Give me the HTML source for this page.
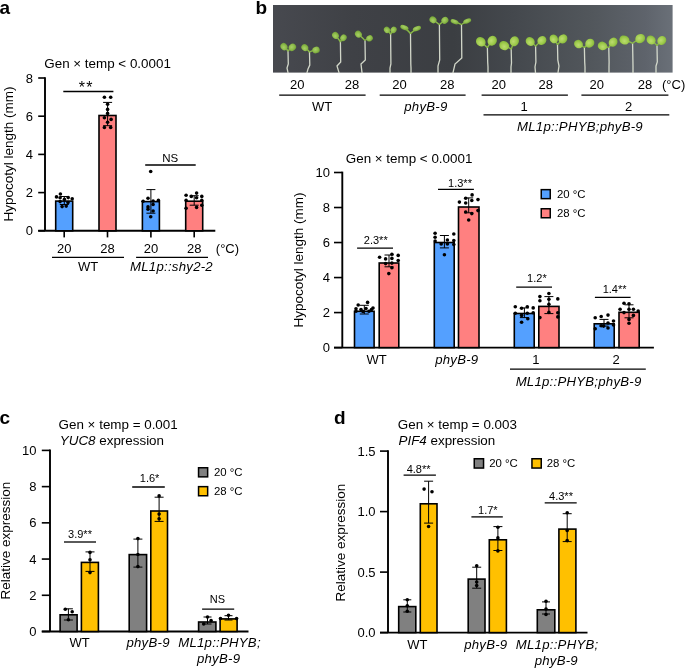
<!DOCTYPE html><html><head><meta charset="utf-8"><style>html,body{margin:0;padding:0;background:#fff;}svg{display:block;font-family:"Liberation Sans",sans-serif;will-change:transform;}</style></head><body>
<svg width="685" height="668" viewBox="0 0 685 668">
<rect width="685" height="668" fill="#fff"/>
<text x="-0.5" y="14.2" font-size="19" text-anchor="start" font-weight="bold">a</text>
<text x="255.5" y="13.8" font-size="19" text-anchor="start" font-weight="bold">b</text>
<text x="-0.5" y="424.1" font-size="19" text-anchor="start" font-weight="bold">c</text>
<text x="334" y="423.9" font-size="19" text-anchor="start" font-weight="bold">d</text>
<text x="44.3" y="67.8" font-size="13.4" text-anchor="start">Gen × temp &lt; 0.0001</text>
<line x1="45" y1="77.14999999999999" x2="45" y2="230.8" stroke="#000" stroke-width="1.9"/><line x1="38.2" y1="230.8" x2="45" y2="230.8" stroke="#000" stroke-width="1.615"/><text x="33.0" y="235.41500000000002" font-size="13" text-anchor="end">0</text><line x1="38.2" y1="192.60000000000002" x2="45" y2="192.60000000000002" stroke="#000" stroke-width="1.615"/><text x="33.0" y="197.21500000000003" font-size="13" text-anchor="end">2</text><line x1="38.2" y1="154.4" x2="45" y2="154.4" stroke="#000" stroke-width="1.615"/><text x="33.0" y="159.01500000000001" font-size="13" text-anchor="end">4</text><line x1="38.2" y1="116.2" x2="45" y2="116.2" stroke="#000" stroke-width="1.615"/><text x="33.0" y="120.815" font-size="13" text-anchor="end">6</text><line x1="38.2" y1="78.0" x2="45" y2="78.0" stroke="#000" stroke-width="1.615"/><text x="33.0" y="82.615" font-size="13" text-anchor="end">8</text>
<line x1="38.2" y1="230.8" x2="215.3" y2="230.8" stroke="#000" stroke-width="1.9"/>
<text transform="translate(13.0,154.0) rotate(-90)" font-size="13.5" text-anchor="middle">Hypocotyl length (mm)</text>
<line x1="64.2" y1="230.8" x2="64.2" y2="237.4" stroke="#000" stroke-width="1.615"/>
<line x1="107.5" y1="230.8" x2="107.5" y2="237.4" stroke="#000" stroke-width="1.615"/>
<line x1="150.9" y1="230.8" x2="150.9" y2="237.4" stroke="#000" stroke-width="1.615"/>
<line x1="194.2" y1="230.8" x2="194.2" y2="237.4" stroke="#000" stroke-width="1.615"/>
<rect x="55.70" y="201.10" width="17.00" height="29.70" fill="#54A0FF" stroke="#000" stroke-width="1.6"/>
<rect x="99.00" y="115.50" width="17.00" height="115.30" fill="#FF8080" stroke="#000" stroke-width="1.6"/>
<rect x="142.40" y="201.60" width="17.00" height="29.20" fill="#54A0FF" stroke="#000" stroke-width="1.6"/>
<rect x="185.70" y="201.20" width="17.00" height="29.60" fill="#FF8080" stroke="#000" stroke-width="1.6"/>
<line x1="64.3" y1="196.5" x2="64.3" y2="204.5" stroke="#000" stroke-width="1.0"/><line x1="59.8" y1="196.5" x2="68.8" y2="196.5" stroke="#000" stroke-width="1.0"/><line x1="59.8" y1="204.5" x2="68.8" y2="204.5" stroke="#000" stroke-width="1.0"/>
<line x1="107.6" y1="102.4" x2="107.6" y2="125.7" stroke="#000" stroke-width="1.0"/><line x1="103.1" y1="102.4" x2="112.1" y2="102.4" stroke="#000" stroke-width="1.0"/><line x1="103.1" y1="125.7" x2="112.1" y2="125.7" stroke="#000" stroke-width="1.0"/>
<line x1="150.9" y1="189.6" x2="150.9" y2="213.2" stroke="#000" stroke-width="1.0"/><line x1="146.4" y1="189.6" x2="155.4" y2="189.6" stroke="#000" stroke-width="1.0"/><line x1="146.4" y1="213.2" x2="155.4" y2="213.2" stroke="#000" stroke-width="1.0"/>
<line x1="194.2" y1="195.7" x2="194.2" y2="205.2" stroke="#000" stroke-width="1.0"/><line x1="189.7" y1="195.7" x2="198.7" y2="195.7" stroke="#000" stroke-width="1.0"/><line x1="189.7" y1="205.2" x2="198.7" y2="205.2" stroke="#000" stroke-width="1.0"/>
<circle cx="56.5" cy="196.9" r="1.8"/><circle cx="60.4" cy="194.0" r="1.8"/><circle cx="60.1" cy="197.8" r="1.8"/><circle cx="64.4" cy="199.4" r="1.8"/><circle cx="68.2" cy="197.6" r="1.8"/><circle cx="72.2" cy="198.7" r="1.8"/><circle cx="62.1" cy="206.6" r="1.8"/><circle cx="66.2" cy="206.1" r="1.8"/><circle cx="60.1" cy="201.6" r="1.8"/><circle cx="68.0" cy="202.5" r="1.8"/>
<circle cx="104.4" cy="97.2" r="1.8"/><circle cx="110.7" cy="97.2" r="1.8"/><circle cx="107.6" cy="104.2" r="1.8"/><circle cx="107.6" cy="109.4" r="1.8"/><circle cx="107.6" cy="113.4" r="1.8"/><circle cx="104.4" cy="117.7" r="1.8"/><circle cx="111.1" cy="119.4" r="1.8"/><circle cx="107.6" cy="122.2" r="1.8"/><circle cx="104.4" cy="127.5" r="1.8"/><circle cx="110.7" cy="127.5" r="1.8"/>
<circle cx="150.7" cy="171.5" r="1.8"/><circle cx="143.1" cy="201.3" r="1.8"/><circle cx="148.0" cy="198.2" r="1.8"/><circle cx="153.1" cy="201.0" r="1.8"/><circle cx="158.4" cy="200.4" r="1.8"/><circle cx="148.0" cy="206.9" r="1.8"/><circle cx="153.1" cy="204.5" r="1.8"/><circle cx="153.1" cy="211.0" r="1.8"/><circle cx="150.7" cy="216.7" r="1.8"/><circle cx="148.0" cy="209.2" r="1.8"/>
<circle cx="186.1" cy="195.2" r="1.8"/><circle cx="196.6" cy="193.1" r="1.8"/><circle cx="201.8" cy="196.4" r="1.8"/><circle cx="191.3" cy="196.4" r="1.8"/><circle cx="196.6" cy="197.8" r="1.8"/><circle cx="186.1" cy="200.4" r="1.8"/><circle cx="201.8" cy="200.4" r="1.8"/><circle cx="186.1" cy="208.3" r="1.8"/><circle cx="196.6" cy="207.4" r="1.8"/><circle cx="201.8" cy="205.2" r="1.8"/>
<line x1="63.3" y1="91.5" x2="113.4" y2="91.5" stroke="#000" stroke-width="1.3"/>
<text x="86.3" y="92.9" font-size="16" text-anchor="middle" letter-spacing="1.2">**</text>
<line x1="145.2" y1="165" x2="195.7" y2="165" stroke="#000" stroke-width="1.3"/>
<text x="170.3" y="161.9" font-size="11.5" text-anchor="middle">NS</text>
<text x="64.2" y="252.8" font-size="13" text-anchor="middle">20</text>
<text x="107.5" y="252.8" font-size="13" text-anchor="middle">28</text>
<text x="150.9" y="252.8" font-size="13" text-anchor="middle">20</text>
<text x="194.2" y="252.8" font-size="13" text-anchor="middle">28</text>
<text x="215.8" y="252.8" font-size="13" text-anchor="start">(°C)</text>
<line x1="52" y1="257.3" x2="124" y2="257.3" stroke="#000" stroke-width="1.3"/>
<line x1="136.1" y1="257.3" x2="208" y2="257.3" stroke="#000" stroke-width="1.3"/>
<text x="88" y="270.8" font-size="13" text-anchor="middle">WT</text>
<text x="171.5" y="270.9" font-size="13.2" text-anchor="middle" letter-spacing="0.25" font-style="italic">ML1p::shy2-2</text>
<defs><linearGradient id="pg" x1="0" x2="1" y1="0" y2="0"><stop offset="0" stop-color="#47494f"/><stop offset="0.2" stop-color="#3f4146"/><stop offset="0.45" stop-color="#3b3e42"/><stop offset="0.6" stop-color="#44484d"/><stop offset="0.8" stop-color="#52575c"/><stop offset="0.93" stop-color="#5e636b"/><stop offset="1" stop-color="#6a7078"/></linearGradient><radialGradient id="cg" cx="0.45" cy="0.4" r="0.6"><stop offset="0" stop-color="#a8cf66"/><stop offset="0.6" stop-color="#8dbb4a"/><stop offset="1" stop-color="#729f38"/></radialGradient><radialGradient id="cg2" cx="0.45" cy="0.4" r="0.6"><stop offset="0" stop-color="#bcdc70"/><stop offset="0.6" stop-color="#a0cc4e"/><stop offset="1" stop-color="#84b63a"/></radialGradient><filter id="bl" x="-5%" y="-5%" width="110%" height="110%"><feGaussianBlur stdDeviation="0.45"/></filter></defs>
<rect x="273" y="5" width="399.6" height="67.6" fill="url(#pg)"/>
<g filter="url(#bl)">
<path d="M288,51.4 L288.3,64 L287,68 L288,72.6" fill="none" stroke="#dde3d4" stroke-width="1.3" stroke-opacity="0.92" stroke-linecap="round"/>
<path d="M284,46.6 Q288,50.4 288,51.4 Q288,50.4 292.4,47.3" fill="none" stroke="#8ab848" stroke-width="1.5"/>
<ellipse cx="284" cy="46.6" rx="3.77" ry="3.33" transform="rotate(-129.8 284 46.6)" fill="url(#cg)"/>
<ellipse cx="292.4" cy="47.3" rx="3.88" ry="3.42" transform="rotate(-43.0 292.4 47.3)" fill="url(#cg)"/>
<path d="M309.5,52.4 L309.8,65 L308,69 L307,72.6" fill="none" stroke="#dde3d4" stroke-width="1.3" stroke-opacity="0.92" stroke-linecap="round"/>
<path d="M304.8,47.6 Q309.5,51.4 309.5,52.4 Q309.5,51.4 316,50" fill="none" stroke="#8ab848" stroke-width="1.5"/>
<ellipse cx="304.8" cy="47.6" rx="3.67" ry="3.24" transform="rotate(-134.4 304.8 47.6)" fill="url(#cg)"/>
<ellipse cx="316" cy="50" rx="3.77" ry="3.33" transform="rotate(-20.3 316 50)" fill="url(#cg)"/>
<path d="M340.4,42.2 L340.7,62 L337,66 L339,72.6" fill="none" stroke="#dde3d4" stroke-width="1.3" stroke-opacity="0.92" stroke-linecap="round"/>
<path d="M335.5,35.4 Q340.4,41.2 340.4,42.2 Q340.4,41.2 343.5,37.8" fill="none" stroke="#8ab848" stroke-width="1.5"/>
<ellipse cx="335.5" cy="35.4" rx="3.67" ry="3.24" transform="rotate(-125.8 335.5 35.4)" fill="url(#cg)"/>
<ellipse cx="343.5" cy="37.8" rx="3.47" ry="3.06" transform="rotate(-54.8 343.5 37.8)" fill="url(#cg)"/>
<path d="M365,40.8 L365.3,60 L361,64 L362,72.6" fill="none" stroke="#dde3d4" stroke-width="1.3" stroke-opacity="0.92" stroke-linecap="round"/>
<path d="M358.4,34.2 Q365,39.8 365,40.8 Q365,39.8 369.6,38.3" fill="none" stroke="#8ab848" stroke-width="1.5"/>
<ellipse cx="358.4" cy="34.2" rx="3.67" ry="3.24" transform="rotate(-135.0 358.4 34.2)" fill="url(#cg)"/>
<ellipse cx="369.6" cy="38.3" rx="3.37" ry="2.97" transform="rotate(-28.5 369.6 38.3)" fill="url(#cg)"/>
<path d="M390.6,34.5 L390.90000000000003,64 L390,68 L390,72.6" fill="none" stroke="#dde3d4" stroke-width="1.3" stroke-opacity="0.92" stroke-linecap="round"/>
<path d="M387.0,29.9 Q390.6,33.5 390.6,34.5 Q390.6,33.5 393.6,29.9" fill="none" stroke="#8ab848" stroke-width="1.5"/>
<ellipse cx="387.0" cy="29.9" rx="3.37" ry="2.97" transform="rotate(-128.0 387.0 29.9)" fill="url(#cg)"/>
<ellipse cx="393.6" cy="29.9" rx="3.37" ry="2.97" transform="rotate(-56.9 393.6 29.9)" fill="url(#cg)"/>
<path d="M410.5,33.9 L410.8,64 L411,68 L411,72.6" fill="none" stroke="#dde3d4" stroke-width="1.3" stroke-opacity="0.92" stroke-linecap="round"/>
<path d="M404.4,27.6 Q410.5,32.9 410.5,33.9 Q410.5,32.9 416.9,28.6" fill="none" stroke="#8ab848" stroke-width="1.5"/>
<ellipse cx="404.4" cy="27.6" rx="4.32" ry="2.30" transform="rotate(22.0 404.4 27.6)" fill="url(#cg)"/>
<ellipse cx="416.9" cy="28.6" rx="4.32" ry="2.30" transform="rotate(-22.0 416.9 28.6)" fill="url(#cg)"/>
<path d="M439.4,25.0 L439.7,60 L438,66 L438,72.6" fill="none" stroke="#dde3d4" stroke-width="1.3" stroke-opacity="0.92" stroke-linecap="round"/>
<path d="M433.0,19.8 Q439.4,24.0 439.4,25.0 Q439.4,24.0 444.9,20.3" fill="none" stroke="#8ab848" stroke-width="1.5"/>
<ellipse cx="433.0" cy="19.8" rx="3.67" ry="3.24" transform="rotate(-140.9 433.0 19.8)" fill="url(#cg)"/>
<ellipse cx="444.9" cy="20.3" rx="3.67" ry="3.24" transform="rotate(-40.5 444.9 20.3)" fill="url(#cg)"/>
<path d="M461.5,25.0 L461.8,58 L455,64 L453,72.6" fill="none" stroke="#dde3d4" stroke-width="1.3" stroke-opacity="0.92" stroke-linecap="round"/>
<path d="M454.6,21.7 Q461.5,24.0 461.5,25.0 Q461.5,24.0 467.2,21.1" fill="none" stroke="#8ab848" stroke-width="1.5"/>
<ellipse cx="454.6" cy="21.7" rx="4.19" ry="2.23" transform="rotate(22.0 454.6 21.7)" fill="url(#cg)"/>
<ellipse cx="467.2" cy="21.1" rx="4.19" ry="2.23" transform="rotate(-22.0 467.2 21.1)" fill="url(#cg)"/>
<path d="M487.4,48.0 L487.7,62 L488,67 L488,72.6" fill="none" stroke="#dde3d4" stroke-width="1.3" stroke-opacity="0.92" stroke-linecap="round"/>
<path d="M480.8,41.8 Q487.4,47.0 487.4,48.0 Q487.4,47.0 492.2,40.8" fill="none" stroke="#8ab848" stroke-width="1.5"/>
<ellipse cx="480.8" cy="41.8" rx="5.10" ry="4.50" transform="rotate(-136.8 480.8 41.8)" fill="url(#cg2)"/>
<ellipse cx="492.2" cy="40.8" rx="5.10" ry="4.50" transform="rotate(-56.3 492.2 40.8)" fill="url(#cg2)"/>
<path d="M511.2,49.5 L511.5,63 L511,67 L511,72.6" fill="none" stroke="#dde3d4" stroke-width="1.3" stroke-opacity="0.92" stroke-linecap="round"/>
<path d="M504.2,45.6 Q511.2,48.5 511.2,49.5 Q511.2,48.5 514.4,41.2" fill="none" stroke="#8ab848" stroke-width="1.5"/>
<ellipse cx="504.2" cy="45.6" rx="5.10" ry="4.50" transform="rotate(-150.9 504.2 45.6)" fill="url(#cg2)"/>
<ellipse cx="514.4" cy="41.2" rx="5.10" ry="4.50" transform="rotate(-68.9 514.4 41.2)" fill="url(#cg2)"/>
<path d="M535.6,46.6 L535.9,62 L535,67 L535.5,72.6" fill="none" stroke="#dde3d4" stroke-width="1.3" stroke-opacity="0.92" stroke-linecap="round"/>
<path d="M530.2,41.5 Q535.6,45.6 535.6,46.6 Q535.6,45.6 541.9,40.5" fill="none" stroke="#8ab848" stroke-width="1.5"/>
<ellipse cx="530.2" cy="41.5" rx="4.79" ry="4.23" transform="rotate(-136.6 530.2 41.5)" fill="url(#cg2)"/>
<ellipse cx="541.9" cy="40.5" rx="4.79" ry="4.23" transform="rotate(-44.1 541.9 40.5)" fill="url(#cg2)"/>
<path d="M557.5,45.1 L557.8,60 L559,66 L558,72.6" fill="none" stroke="#dde3d4" stroke-width="1.3" stroke-opacity="0.92" stroke-linecap="round"/>
<path d="M553.8,38.9 Q557.5,44.1 557.5,45.1 Q557.5,44.1 562.9,38.9" fill="none" stroke="#8ab848" stroke-width="1.5"/>
<ellipse cx="553.8" cy="38.9" rx="4.59" ry="4.05" transform="rotate(-120.8 553.8 38.9)" fill="url(#cg2)"/>
<ellipse cx="562.9" cy="38.9" rx="4.79" ry="4.23" transform="rotate(-48.9 562.9 38.9)" fill="url(#cg2)"/>
<path d="M584.4,48.0 L584.6999999999999,62 L585,67 L585,72.6" fill="none" stroke="#dde3d4" stroke-width="1.3" stroke-opacity="0.92" stroke-linecap="round"/>
<path d="M578.5,44.1 Q584.4,47.0 584.4,48.0 Q584.4,47.0 589.8,43.2" fill="none" stroke="#8ab848" stroke-width="1.5"/>
<ellipse cx="578.5" cy="44.1" rx="4.59" ry="4.05" transform="rotate(-146.5 578.5 44.1)" fill="url(#cg2)"/>
<ellipse cx="589.8" cy="43.2" rx="4.79" ry="4.23" transform="rotate(-41.6 589.8 43.2)" fill="url(#cg2)"/>
<path d="M608.8,48.0 L609.0999999999999,62 L609,67 L609,72.6" fill="none" stroke="#dde3d4" stroke-width="1.3" stroke-opacity="0.92" stroke-linecap="round"/>
<path d="M602.5,45.9 Q608.8,47.0 608.8,48.0 Q608.8,47.0 613.1,42.2" fill="none" stroke="#8ab848" stroke-width="1.5"/>
<ellipse cx="602.5" cy="45.9" rx="4.79" ry="4.23" transform="rotate(-161.6 602.5 45.9)" fill="url(#cg2)"/>
<ellipse cx="613.1" cy="42.2" rx="4.79" ry="4.23" transform="rotate(-53.4 613.1 42.2)" fill="url(#cg2)"/>
<path d="M632.6,43.7 L632.9,60 L633,66 L633,72.6" fill="none" stroke="#dde3d4" stroke-width="1.3" stroke-opacity="0.92" stroke-linecap="round"/>
<path d="M624.4,40.0 Q632.6,42.7 632.6,43.7 Q632.6,42.7 640.2,38.6" fill="none" stroke="#8ab848" stroke-width="1.5"/>
<ellipse cx="624.4" cy="40.0" rx="5.10" ry="4.50" transform="rotate(-155.7 624.4 40.0)" fill="url(#cg2)"/>
<ellipse cx="640.2" cy="38.6" rx="5.10" ry="4.50" transform="rotate(-33.9 640.2 38.6)" fill="url(#cg2)"/>
<path d="M657.0,45.9 L657.3,62 L656,66 L656,72.6" fill="none" stroke="#dde3d4" stroke-width="1.3" stroke-opacity="0.92" stroke-linecap="round"/>
<path d="M651.1,40.0 Q657.0,44.9 657.0,45.9 Q657.0,44.9 661.8,40.5" fill="none" stroke="#8ab848" stroke-width="1.5"/>
<ellipse cx="651.1" cy="40.0" rx="4.79" ry="4.23" transform="rotate(-135.0 651.1 40.0)" fill="url(#cg2)"/>
<ellipse cx="661.8" cy="40.5" rx="4.79" ry="4.23" transform="rotate(-48.4 661.8 40.5)" fill="url(#cg2)"/>
</g>
<text x="297.2" y="89.0" font-size="13" text-anchor="middle">20</text>
<text x="352.1" y="89.0" font-size="13" text-anchor="middle">28</text>
<text x="399.5" y="89.0" font-size="13" text-anchor="middle">20</text>
<text x="447.2" y="89.0" font-size="13" text-anchor="middle">28</text>
<text x="498.7" y="89.0" font-size="13" text-anchor="middle">20</text>
<text x="545.8" y="89.0" font-size="13" text-anchor="middle">28</text>
<text x="596.8" y="89.0" font-size="13" text-anchor="middle">20</text>
<text x="645.0" y="89.0" font-size="13" text-anchor="middle">28</text>
<text x="662" y="89.0" font-size="13" text-anchor="start">(°C)</text>
<line x1="279.2" y1="95.2" x2="365.6" y2="95.2" stroke="#000" stroke-width="1.3"/>
<line x1="379.7" y1="95.2" x2="465.6" y2="95.2" stroke="#000" stroke-width="1.3"/>
<line x1="481.6" y1="95.2" x2="567.9" y2="95.2" stroke="#000" stroke-width="1.3"/>
<line x1="581.4" y1="95.2" x2="668.4" y2="95.2" stroke="#000" stroke-width="1.3"/>
<text x="322.2" y="110.8" font-size="13" text-anchor="middle">WT</text>
<text x="425.9" y="110.8" font-size="13.2" text-anchor="middle" letter-spacing="0.25" font-style="italic">phyB-9</text>
<text x="524.0" y="111.2" font-size="13" text-anchor="middle">1</text>
<text x="628.5" y="111.2" font-size="13" text-anchor="middle">2</text>
<line x1="483.5" y1="114.9" x2="669.3" y2="114.9" stroke="#000" stroke-width="1.3"/>
<text x="580.0" y="131.0" font-size="13.2" text-anchor="middle" letter-spacing="0.25" font-style="italic">ML1p::PHYB;phyB-9</text>
<text x="345.8" y="163.4" font-size="13.4" text-anchor="start">Gen × temp &lt; 0.0001</text>
<line x1="342.3" y1="171.65" x2="342.3" y2="347.6" stroke="#000" stroke-width="1.9"/><line x1="334" y1="347.6" x2="342.3" y2="347.6" stroke="#000" stroke-width="1.615"/><text x="330.0" y="352.21500000000003" font-size="13" text-anchor="end">0</text><line x1="334" y1="312.58000000000004" x2="342.3" y2="312.58000000000004" stroke="#000" stroke-width="1.615"/><text x="330.0" y="317.19500000000005" font-size="13" text-anchor="end">2</text><line x1="334" y1="277.56" x2="342.3" y2="277.56" stroke="#000" stroke-width="1.615"/><text x="330.0" y="282.175" font-size="13" text-anchor="end">4</text><line x1="334" y1="242.54000000000002" x2="342.3" y2="242.54000000000002" stroke="#000" stroke-width="1.615"/><text x="330.0" y="247.15500000000003" font-size="13" text-anchor="end">6</text><line x1="334" y1="207.52" x2="342.3" y2="207.52" stroke="#000" stroke-width="1.615"/><text x="330.0" y="212.13500000000002" font-size="13" text-anchor="end">8</text><line x1="334" y1="172.5" x2="342.3" y2="172.5" stroke="#000" stroke-width="1.615"/><text x="330.0" y="177.115" font-size="13" text-anchor="end">10</text>
<line x1="334" y1="347.6" x2="653.9" y2="347.6" stroke="#000" stroke-width="1.9"/>
<text transform="translate(302.5,260.0) rotate(-90)" font-size="13.5" text-anchor="middle">Hypocotyl length (mm)</text>
<rect x="354.50" y="311.30" width="19.60" height="36.30" fill="#54A0FF" stroke="#000" stroke-width="1.6"/>
<rect x="379.20" y="263.00" width="19.60" height="84.60" fill="#FF8080" stroke="#000" stroke-width="1.6"/>
<rect x="434.30" y="242.50" width="19.90" height="105.10" fill="#54A0FF" stroke="#000" stroke-width="1.6"/>
<rect x="458.50" y="207.00" width="20.50" height="140.60" fill="#FF8080" stroke="#000" stroke-width="1.6"/>
<rect x="514.30" y="313.50" width="19.90" height="34.10" fill="#54A0FF" stroke="#000" stroke-width="1.6"/>
<rect x="538.80" y="306.40" width="20.20" height="41.20" fill="#FF8080" stroke="#000" stroke-width="1.6"/>
<rect x="594.20" y="323.80" width="20.00" height="23.80" fill="#54A0FF" stroke="#000" stroke-width="1.6"/>
<rect x="619.00" y="312.30" width="20.20" height="35.30" fill="#FF8080" stroke="#000" stroke-width="1.6"/>
<line x1="364.3" y1="305.3" x2="364.3" y2="314.0" stroke="#000" stroke-width="1.0"/><line x1="359.8" y1="305.3" x2="368.8" y2="305.3" stroke="#000" stroke-width="1.0"/><line x1="359.8" y1="314.0" x2="368.8" y2="314.0" stroke="#000" stroke-width="1.0"/>
<line x1="389.0" y1="255.0" x2="389.0" y2="266.8" stroke="#000" stroke-width="1.0"/><line x1="384.5" y1="255.0" x2="393.5" y2="255.0" stroke="#000" stroke-width="1.0"/><line x1="384.5" y1="266.8" x2="393.5" y2="266.8" stroke="#000" stroke-width="1.0"/>
<line x1="444.4" y1="235.5" x2="444.4" y2="247.9" stroke="#000" stroke-width="1.0"/><line x1="439.9" y1="235.5" x2="448.9" y2="235.5" stroke="#000" stroke-width="1.0"/><line x1="439.9" y1="247.9" x2="448.9" y2="247.9" stroke="#000" stroke-width="1.0"/>
<line x1="468.7" y1="197.9" x2="468.7" y2="212.8" stroke="#000" stroke-width="1.0"/><line x1="464.2" y1="197.9" x2="473.2" y2="197.9" stroke="#000" stroke-width="1.0"/><line x1="464.2" y1="212.8" x2="473.2" y2="212.8" stroke="#000" stroke-width="1.0"/>
<line x1="524.4" y1="307.9" x2="524.4" y2="317.6" stroke="#000" stroke-width="1.0"/><line x1="519.9" y1="307.9" x2="528.9" y2="307.9" stroke="#000" stroke-width="1.0"/><line x1="519.9" y1="317.6" x2="528.9" y2="317.6" stroke="#000" stroke-width="1.0"/>
<line x1="548.9" y1="296.6" x2="548.9" y2="313.6" stroke="#000" stroke-width="1.0"/><line x1="544.4" y1="296.6" x2="553.4" y2="296.6" stroke="#000" stroke-width="1.0"/><line x1="544.4" y1="313.6" x2="553.4" y2="313.6" stroke="#000" stroke-width="1.0"/>
<line x1="604.0" y1="319.4" x2="604.0" y2="326.1" stroke="#000" stroke-width="1.0"/><line x1="599.5" y1="319.4" x2="608.5" y2="319.4" stroke="#000" stroke-width="1.0"/><line x1="599.5" y1="326.1" x2="608.5" y2="326.1" stroke="#000" stroke-width="1.0"/>
<line x1="629.0" y1="304.8" x2="629.0" y2="317.8" stroke="#000" stroke-width="1.0"/><line x1="624.5" y1="304.8" x2="633.5" y2="304.8" stroke="#000" stroke-width="1.0"/><line x1="624.5" y1="317.8" x2="633.5" y2="317.8" stroke="#000" stroke-width="1.0"/>
<circle cx="358.2" cy="305.0" r="1.8"/><circle cx="367.6" cy="302.4" r="1.8"/><circle cx="356.0" cy="308.7" r="1.8"/><circle cx="361.0" cy="309.5" r="1.8"/><circle cx="366.0" cy="308.5" r="1.8"/><circle cx="371.5" cy="309.5" r="1.8"/><circle cx="356.0" cy="311.2" r="1.8"/><circle cx="363.0" cy="311.5" r="1.8"/><circle cx="369.0" cy="311.2" r="1.8"/><circle cx="373.0" cy="308.0" r="1.8"/>
<circle cx="379.6" cy="257.3" r="1.8"/><circle cx="385.6" cy="258.9" r="1.8"/><circle cx="391.9" cy="254.2" r="1.8"/><circle cx="391.9" cy="258.4" r="1.8"/><circle cx="398.2" cy="255.4" r="1.8"/><circle cx="398.2" cy="260.5" r="1.8"/><circle cx="385.6" cy="263.6" r="1.8"/><circle cx="391.9" cy="263.1" r="1.8"/><circle cx="391.9" cy="267.8" r="1.8"/><circle cx="388.8" cy="273.6" r="1.8"/>
<circle cx="435.1" cy="233.3" r="1.8"/><circle cx="435.1" cy="237.2" r="1.8"/><circle cx="435.1" cy="241.1" r="1.8"/><circle cx="453.8" cy="234.0" r="1.8"/><circle cx="447.4" cy="240.0" r="1.8"/><circle cx="453.8" cy="240.6" r="1.8"/><circle cx="441.2" cy="243.9" r="1.8"/><circle cx="447.4" cy="243.9" r="1.8"/><circle cx="453.8" cy="244.5" r="1.8"/><circle cx="444.4" cy="254.8" r="1.8"/>
<circle cx="459.4" cy="202.1" r="1.8"/><circle cx="465.7" cy="198.2" r="1.8"/><circle cx="472.1" cy="194.9" r="1.8"/><circle cx="471.8" cy="200.5" r="1.8"/><circle cx="478.0" cy="199.6" r="1.8"/><circle cx="465.7" cy="203.0" r="1.8"/><circle cx="465.7" cy="212.0" r="1.8"/><circle cx="471.8" cy="213.6" r="1.8"/><circle cx="478.0" cy="210.6" r="1.8"/><circle cx="468.7" cy="220.0" r="1.8"/>
<circle cx="515.3" cy="306.8" r="1.8"/><circle cx="521.6" cy="308.3" r="1.8"/><circle cx="527.3" cy="306.8" r="1.8"/><circle cx="533.2" cy="307.9" r="1.8"/><circle cx="515.3" cy="313.3" r="1.8"/><circle cx="521.6" cy="315.4" r="1.8"/><circle cx="527.3" cy="313.3" r="1.8"/><circle cx="533.2" cy="312.7" r="1.8"/><circle cx="521.6" cy="322.3" r="1.8"/><circle cx="527.8" cy="318.7" r="1.8"/>
<circle cx="539.9" cy="296.6" r="1.8"/><circle cx="548.9" cy="293.5" r="1.8"/><circle cx="548.9" cy="299.3" r="1.8"/><circle cx="557.8" cy="298.9" r="1.8"/><circle cx="539.9" cy="300.7" r="1.8"/><circle cx="548.9" cy="304.3" r="1.8"/><circle cx="539.9" cy="317.6" r="1.8"/><circle cx="548.9" cy="312.4" r="1.8"/><circle cx="557.8" cy="312.8" r="1.8"/><circle cx="557.8" cy="316.9" r="1.8"/>
<circle cx="595.2" cy="317.8" r="1.8"/><circle cx="601.2" cy="316.5" r="1.8"/><circle cx="608.0" cy="315.1" r="1.8"/><circle cx="613.5" cy="321.0" r="1.8"/><circle cx="595.2" cy="328.8" r="1.8"/><circle cx="601.2" cy="325.7" r="1.8"/><circle cx="608.0" cy="323.0" r="1.8"/><circle cx="608.0" cy="328.0" r="1.8"/><circle cx="603.6" cy="326.1" r="1.8"/><circle cx="613.5" cy="324.9" r="1.8"/>
<circle cx="624.0" cy="303.2" r="1.8"/><circle cx="629.0" cy="303.7" r="1.8"/><circle cx="620.1" cy="309.2" r="1.8"/><circle cx="629.0" cy="309.2" r="1.8"/><circle cx="633.4" cy="309.2" r="1.8"/><circle cx="638.2" cy="311.0" r="1.8"/><circle cx="624.0" cy="312.6" r="1.8"/><circle cx="633.4" cy="315.4" r="1.8"/><circle cx="629.0" cy="319.4" r="1.8"/><circle cx="629.0" cy="323.3" r="1.8"/>
<line x1="357.1" y1="248.2" x2="393.0" y2="248.2" stroke="#000" stroke-width="1.3"/>
<text x="375.75" y="244.0" font-size="11" text-anchor="middle">2.3**</text>
<line x1="438.0" y1="189.3" x2="473.9" y2="189.3" stroke="#000" stroke-width="1.3"/>
<text x="460.0" y="187.0" font-size="11" text-anchor="middle">1.3**</text>
<line x1="516.2" y1="287.1" x2="552.0" y2="287.1" stroke="#000" stroke-width="1.3"/>
<text x="536.9" y="281.8" font-size="11" text-anchor="middle">1.2*</text>
<line x1="594.9" y1="297.4" x2="630.6" y2="297.4" stroke="#000" stroke-width="1.3"/>
<text x="614.6" y="292.7" font-size="11" text-anchor="middle">1.4**</text>
<rect x="541.25" y="189.65" width="9" height="9" fill="#54A0FF" stroke="#000" stroke-width="1.5"/>
<rect x="541.25" y="208.75" width="9" height="9" fill="#FF8080" stroke="#000" stroke-width="1.5"/>
<text x="556.9" y="197.7" font-size="11.4" text-anchor="start">20 °C</text>
<text x="556.9" y="217.2" font-size="11.4" text-anchor="start">28 °C</text>
<text x="376.6" y="363.6" font-size="13" text-anchor="middle">WT</text>
<text x="456.8" y="363.6" font-size="13.2" text-anchor="middle" letter-spacing="0.25" font-style="italic">phyB-9</text>
<text x="535.9" y="363.8" font-size="13" text-anchor="middle">1</text>
<text x="616.1" y="363.8" font-size="13" text-anchor="middle">2</text>
<line x1="510" y1="369.2" x2="645.8" y2="369.2" stroke="#000" stroke-width="1.3"/>
<text x="578.6" y="385.9" font-size="13.2" text-anchor="middle" letter-spacing="0.25" font-style="italic">ML1p::PHYB;phyB-9</text>
<text x="58.6" y="428.8" font-size="13.4" text-anchor="start">Gen × temp = 0.001</text>
<text x="59.8" y="444.6" font-size="13.4"><tspan font-style="italic">YUC8</tspan> expression</text>
<line x1="50" y1="449.55" x2="50" y2="631.5" stroke="#000" stroke-width="1.9"/><line x1="41.8" y1="631.5" x2="50" y2="631.5" stroke="#000" stroke-width="1.615"/><text x="36.5" y="636.115" font-size="13" text-anchor="end">0</text><line x1="41.8" y1="595.28" x2="50" y2="595.28" stroke="#000" stroke-width="1.615"/><text x="36.5" y="599.895" font-size="13" text-anchor="end">2</text><line x1="41.8" y1="559.06" x2="50" y2="559.06" stroke="#000" stroke-width="1.615"/><text x="36.5" y="563.675" font-size="13" text-anchor="end">4</text><line x1="41.8" y1="522.84" x2="50" y2="522.84" stroke="#000" stroke-width="1.615"/><text x="36.5" y="527.455" font-size="13" text-anchor="end">6</text><line x1="41.8" y1="486.62" x2="50" y2="486.62" stroke="#000" stroke-width="1.615"/><text x="36.5" y="491.235" font-size="13" text-anchor="end">8</text><line x1="41.8" y1="450.4" x2="50" y2="450.4" stroke="#000" stroke-width="1.615"/><text x="36.5" y="455.015" font-size="13" text-anchor="end">10</text>
<line x1="41.8" y1="631.5" x2="248.5" y2="631.5" stroke="#000" stroke-width="1.9"/>
<text transform="translate(10.2,540.7) rotate(-90)" font-size="13.5" text-anchor="middle">Relative expression</text>
<rect x="60.10" y="614.80" width="17.00" height="16.70" fill="#808080" stroke="#000" stroke-width="1.6"/>
<rect x="81.40" y="562.40" width="17.00" height="69.10" fill="#FFC000" stroke="#000" stroke-width="1.6"/>
<rect x="129.20" y="554.60" width="17.40" height="76.90" fill="#808080" stroke="#000" stroke-width="1.6"/>
<rect x="150.80" y="511.00" width="16.70" height="120.50" fill="#FFC000" stroke="#000" stroke-width="1.6"/>
<rect x="198.60" y="622.00" width="17.30" height="9.50" fill="#808080" stroke="#000" stroke-width="1.6"/>
<rect x="220.10" y="618.90" width="17.00" height="12.60" fill="#FFC000" stroke="#000" stroke-width="1.6"/>
<line x1="68.4" y1="608.8" x2="68.4" y2="620.0" stroke="#000" stroke-width="1.0"/><line x1="63.900000000000006" y1="608.8" x2="72.9" y2="608.8" stroke="#000" stroke-width="1.0"/><line x1="63.900000000000006" y1="620.0" x2="72.9" y2="620.0" stroke="#000" stroke-width="1.0"/>
<line x1="90.0" y1="551.9" x2="90.0" y2="571.4" stroke="#000" stroke-width="1.0"/><line x1="85.5" y1="551.9" x2="94.5" y2="551.9" stroke="#000" stroke-width="1.0"/><line x1="85.5" y1="571.4" x2="94.5" y2="571.4" stroke="#000" stroke-width="1.0"/>
<line x1="137.9" y1="539.1" x2="137.9" y2="567.1" stroke="#000" stroke-width="1.0"/><line x1="133.4" y1="539.1" x2="142.4" y2="539.1" stroke="#000" stroke-width="1.0"/><line x1="133.4" y1="567.1" x2="142.4" y2="567.1" stroke="#000" stroke-width="1.0"/>
<line x1="159.1" y1="497.2" x2="159.1" y2="521.4" stroke="#000" stroke-width="1.0"/><line x1="154.6" y1="497.2" x2="163.6" y2="497.2" stroke="#000" stroke-width="1.0"/><line x1="154.6" y1="521.4" x2="163.6" y2="521.4" stroke="#000" stroke-width="1.0"/>
<line x1="207.5" y1="617.0" x2="207.5" y2="624.0" stroke="#000" stroke-width="1.0"/><line x1="203.5" y1="617.0" x2="211.5" y2="617.0" stroke="#000" stroke-width="1.0"/><line x1="203.5" y1="624.0" x2="211.5" y2="624.0" stroke="#000" stroke-width="1.0"/>
<line x1="228.5" y1="615.7" x2="228.5" y2="620.0" stroke="#000" stroke-width="1.0"/><line x1="224.5" y1="615.7" x2="232.5" y2="615.7" stroke="#000" stroke-width="1.0"/><line x1="224.5" y1="620.0" x2="232.5" y2="620.0" stroke="#000" stroke-width="1.0"/>
<circle cx="65.3" cy="609.3" r="1.8"/><circle cx="72.2" cy="611.7" r="1.8"/><circle cx="68.4" cy="619.7" r="1.8"/><circle cx="90.0" cy="552.4" r="1.8"/><circle cx="90.0" cy="559.7" r="1.8"/><circle cx="90.0" cy="572.6" r="1.8"/><circle cx="137.9" cy="538.6" r="1.8"/><circle cx="137.9" cy="554.5" r="1.8"/><circle cx="137.9" cy="566.6" r="1.8"/><circle cx="159.1" cy="495.9" r="1.8"/><circle cx="159.1" cy="514.1" r="1.8"/><circle cx="159.1" cy="518.8" r="1.8"/><circle cx="207.5" cy="617.0" r="1.8"/><circle cx="211.1" cy="620.5" r="1.8"/><circle cx="203.7" cy="624.0" r="1.8"/><circle cx="228.5" cy="615.3" r="1.8"/><circle cx="220.5" cy="618.6" r="1.8"/><circle cx="236.6" cy="618.6" r="1.8"/>
<line x1="64.0" y1="542.0" x2="96.0" y2="542.0" stroke="#000" stroke-width="1.3"/>
<text x="80.0" y="537.8" font-size="11" text-anchor="middle">3.9**</text>
<line x1="132.2" y1="487.0" x2="164.8" y2="487.0" stroke="#000" stroke-width="1.3"/>
<text x="149.6" y="481.5" font-size="11" text-anchor="middle">1.6*</text>
<line x1="202.1" y1="609.1" x2="234.2" y2="609.1" stroke="#000" stroke-width="1.3"/>
<text x="217.5" y="603.4" font-size="11" text-anchor="middle">NS</text>
<rect x="198.55" y="467.75" width="9.1" height="9.1" fill="#808080" stroke="#000" stroke-width="1.5"/>
<rect x="198.55" y="486.65" width="9.1" height="9.1" fill="#FFC000" stroke="#000" stroke-width="1.5"/>
<text x="213.9" y="475.8" font-size="11.4" text-anchor="start">20 °C</text>
<text x="213.9" y="495.0" font-size="11.4" text-anchor="start">28 °C</text>
<text x="79.5" y="646.7" font-size="13" text-anchor="middle">WT</text>
<text x="148.1" y="646.9" font-size="13.2" text-anchor="middle" letter-spacing="0.25" font-style="italic">phyB-9</text>
<text x="219.5" y="646.9" font-size="13.2" text-anchor="middle" letter-spacing="0.25" font-style="italic">ML1p::PHYB;</text>
<text x="218.6" y="662.8" font-size="13.2" text-anchor="middle" letter-spacing="0.25" font-style="italic">phyB-9</text>
<text x="397.8" y="428.6" font-size="13.4" text-anchor="start">Gen × temp = 0.003</text>
<text x="398.5" y="445.0" font-size="13.4"><tspan font-style="italic">PIF4</tspan> expression</text>
<line x1="388.0" y1="450.25000000000006" x2="388.0" y2="632.6" stroke="#000" stroke-width="1.9"/><line x1="380.0" y1="632.6" x2="388.0" y2="632.6" stroke="#000" stroke-width="1.615"/><text x="375.5" y="637.215" font-size="13" text-anchor="end">0.0</text><line x1="380.0" y1="572.1" x2="388.0" y2="572.1" stroke="#000" stroke-width="1.615"/><text x="375.5" y="576.715" font-size="13" text-anchor="end">0.5</text><line x1="380.0" y1="511.6" x2="388.0" y2="511.6" stroke="#000" stroke-width="1.615"/><text x="375.5" y="516.215" font-size="13" text-anchor="end">1.0</text><line x1="380.0" y1="451.1" x2="388.0" y2="451.1" stroke="#000" stroke-width="1.615"/><text x="375.5" y="455.71500000000003" font-size="13" text-anchor="end">1.5</text>
<line x1="380.0" y1="632.6" x2="587.5" y2="632.6" stroke="#000" stroke-width="1.9"/>
<text transform="translate(344.8,542.7) rotate(-90)" font-size="13.5" text-anchor="middle">Relative expression</text>
<rect x="398.70" y="606.60" width="17.10" height="26.00" fill="#808080" stroke="#000" stroke-width="1.6"/>
<rect x="420.30" y="503.80" width="16.70" height="128.80" fill="#FFC000" stroke="#000" stroke-width="1.6"/>
<rect x="468.20" y="579.10" width="16.80" height="53.50" fill="#808080" stroke="#000" stroke-width="1.6"/>
<rect x="489.30" y="539.80" width="17.10" height="92.80" fill="#FFC000" stroke="#000" stroke-width="1.6"/>
<rect x="537.30" y="609.80" width="17.50" height="22.80" fill="#808080" stroke="#000" stroke-width="1.6"/>
<rect x="558.90" y="529.10" width="17.00" height="103.50" fill="#FFC000" stroke="#000" stroke-width="1.6"/>
<line x1="407.3" y1="599.8" x2="407.3" y2="612.0" stroke="#000" stroke-width="1.0"/><line x1="403.3" y1="599.8" x2="411.3" y2="599.8" stroke="#000" stroke-width="1.0"/><line x1="403.3" y1="612.0" x2="411.3" y2="612.0" stroke="#000" stroke-width="1.0"/>
<line x1="428.6" y1="481.2" x2="428.6" y2="523.1" stroke="#000" stroke-width="1.0"/><line x1="424.1" y1="481.2" x2="433.1" y2="481.2" stroke="#000" stroke-width="1.0"/><line x1="424.1" y1="523.1" x2="433.1" y2="523.1" stroke="#000" stroke-width="1.0"/>
<line x1="476.7" y1="567.2" x2="476.7" y2="588.2" stroke="#000" stroke-width="1.0"/><line x1="472.2" y1="567.2" x2="481.2" y2="567.2" stroke="#000" stroke-width="1.0"/><line x1="472.2" y1="588.2" x2="481.2" y2="588.2" stroke="#000" stroke-width="1.0"/>
<line x1="497.9" y1="526.6" x2="497.9" y2="550.5" stroke="#000" stroke-width="1.0"/><line x1="493.4" y1="526.6" x2="502.4" y2="526.6" stroke="#000" stroke-width="1.0"/><line x1="493.4" y1="550.5" x2="502.4" y2="550.5" stroke="#000" stroke-width="1.0"/>
<line x1="546.0" y1="601.9" x2="546.0" y2="614.0" stroke="#000" stroke-width="1.0"/><line x1="542.0" y1="601.9" x2="550.0" y2="601.9" stroke="#000" stroke-width="1.0"/><line x1="542.0" y1="614.0" x2="550.0" y2="614.0" stroke="#000" stroke-width="1.0"/>
<line x1="567.2" y1="513.7" x2="567.2" y2="541.6" stroke="#000" stroke-width="1.0"/><line x1="562.7" y1="513.7" x2="571.7" y2="513.7" stroke="#000" stroke-width="1.0"/><line x1="562.7" y1="541.6" x2="571.7" y2="541.6" stroke="#000" stroke-width="1.0"/>
<circle cx="407.3" cy="599.8" r="1.8"/><circle cx="407.3" cy="605.7" r="1.8"/><circle cx="407.3" cy="611.3" r="1.8"/><circle cx="424.1" cy="489.1" r="1.8"/><circle cx="432.0" cy="491.7" r="1.8"/><circle cx="428.6" cy="526.5" r="1.8"/><circle cx="476.7" cy="565.7" r="1.8"/><circle cx="476.7" cy="582.0" r="1.8"/><circle cx="476.7" cy="585.6" r="1.8"/><circle cx="497.9" cy="527.2" r="1.8"/><circle cx="497.9" cy="537.9" r="1.8"/><circle cx="497.9" cy="550.9" r="1.8"/><circle cx="546.0" cy="601.3" r="1.8"/><circle cx="546.0" cy="609.0" r="1.8"/><circle cx="546.0" cy="614.5" r="1.8"/><circle cx="567.2" cy="512.8" r="1.8"/><circle cx="567.2" cy="530.5" r="1.8"/><circle cx="567.2" cy="540.6" r="1.8"/>
<line x1="403.6" y1="475.2" x2="435.9" y2="475.2" stroke="#000" stroke-width="1.3"/>
<text x="418.6" y="472.6" font-size="11" text-anchor="middle">4.8**</text>
<line x1="471.4" y1="516.9" x2="502.8" y2="516.9" stroke="#000" stroke-width="1.3"/>
<text x="487.85" y="513.9" font-size="11" text-anchor="middle">1.7*</text>
<line x1="544.7" y1="502.8" x2="576.7" y2="502.8" stroke="#000" stroke-width="1.3"/>
<text x="561.0" y="499.9" font-size="11" text-anchor="middle">4.3**</text>
<rect x="474.25" y="458.75" width="9.3" height="9.3" fill="#808080" stroke="#000" stroke-width="1.5"/>
<rect x="531.95" y="458.75" width="9.3" height="9.3" fill="#FFC000" stroke="#000" stroke-width="1.5"/>
<text x="489.2" y="467.3" font-size="11.4" text-anchor="start">20 °C</text>
<text x="546.7" y="467.3" font-size="11.4" text-anchor="start">28 °C</text>
<text x="417.4" y="649.0" font-size="13" text-anchor="middle">WT</text>
<text x="485.8" y="649.2" font-size="13.2" text-anchor="middle" letter-spacing="0.25" font-style="italic">phyB-9</text>
<text x="557.1" y="649.2" font-size="13.2" text-anchor="middle" letter-spacing="0.25" font-style="italic">ML1p::PHYB;</text>
<text x="556.3" y="664.8" font-size="13.2" text-anchor="middle" letter-spacing="0.25" font-style="italic">phyB-9</text>
</svg></body></html>
